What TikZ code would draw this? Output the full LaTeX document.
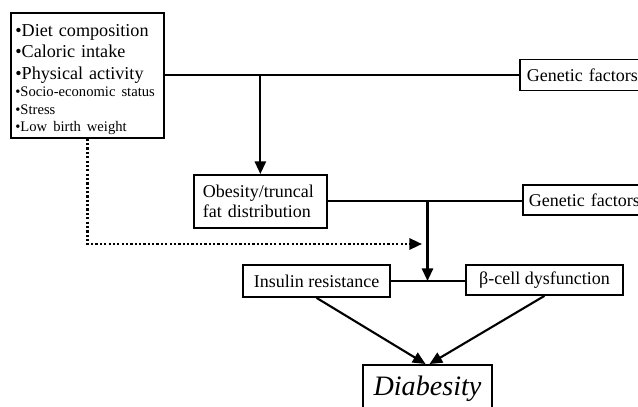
\documentclass[tikz,border=0pt]{standalone}
\usepackage{fontspec}
\setmainfont{Liberation Serif}
\usetikzlibrary{arrows.meta,positioning,calc}

\tikzset{
  box/.style={draw,line width=1.2pt,inner sep=0pt,font=\fontsize{12.8}{14.5}\selectfont},
  link/.style={line width=1.5pt},
  arr/.style={link,-{Triangle[length=9pt,width=8pt]}},
  dots/.style={line width=1.7pt,dash pattern=on 1.6pt off 1.5pt,-{Triangle[length=9pt,width=8pt]}},
}

\begin{document}
\begin{tikzpicture}[x=0.025cm,y=-0.025cm]
  \useasboundingbox (0,0) rectangle (638,407);
  \clip (0,0) rectangle (638,407);
  % boxes
  \node[box,anchor=north west,minimum width=3.825cm,minimum height=3.125cm,text width=3.6cm,align=left] (lifestyle) at (10,12)
    {\fontsize{12.9}{15.3}\selectfont\rule{0pt}{14.5pt}•Diet composition\\ •Caloric intake\\ •Physical activity\\
     \fontsize{10.4}{12.4}\selectfont •Socio-economic status\\ •Stress\\[-2pt] •Low birth weight};
  \node[box,anchor=west,minimum width=3.5cm,minimum height=0.775cm,text width=3.15cm,align=left] (gen1) at (519,75) {Genetic factors};
  \node[box,anchor=north west,minimum width=3.325cm,minimum height=1.325cm,text width=2.875cm,align=left] (obesity) at (193,174)
    {Obesity/truncal\\ fat distribution};
  \node[box,anchor=west,minimum width=3.5cm,minimum height=0.75cm,text width=3.2cm,align=left] (gen2) at (522,200) {Genetic factors};
  \node[box,minimum width=3.675cm,minimum height=0.8cm] (insulin) at (316.5,281) {Insulin resistance};
  \node[box,minimum width=3.925cm,minimum height=0.75cm] (beta) at (544.5,280) {β-cell dysfunction};
  \node[box,anchor=north,minimum width=3.225cm,minimum height=1.2cm,font=\fontsize{20}{24}\selectfont\itshape] (diabesity) at (427.5,364) {Diabesity};
  % connectors
  \draw[link] (lifestyle.east) -- (lifestyle.east -| gen1.west);
  \draw[arr] (lifestyle.east -| obesity.north) -- (obesity.north);
  \draw[link] (obesity.east) -- (obesity.east -| gen2.west);
  \draw[link] (insulin.east) -- (insulin.east -| beta.west);
  \draw[arr] (obesity.east -| diabesity.north) -- (insulin.east -| diabesity.north);
  \coordinate (dotend) at (422,244);
  \draw[dots] (lifestyle.south) |- (dotend);
  \draw[arr] (insulin.south) -- ([xshift=-0.05cm]diabesity.north);
  \draw[arr] (beta.south) -- ([xshift=0.05cm]diabesity.north);
\end{tikzpicture}
\end{document}
